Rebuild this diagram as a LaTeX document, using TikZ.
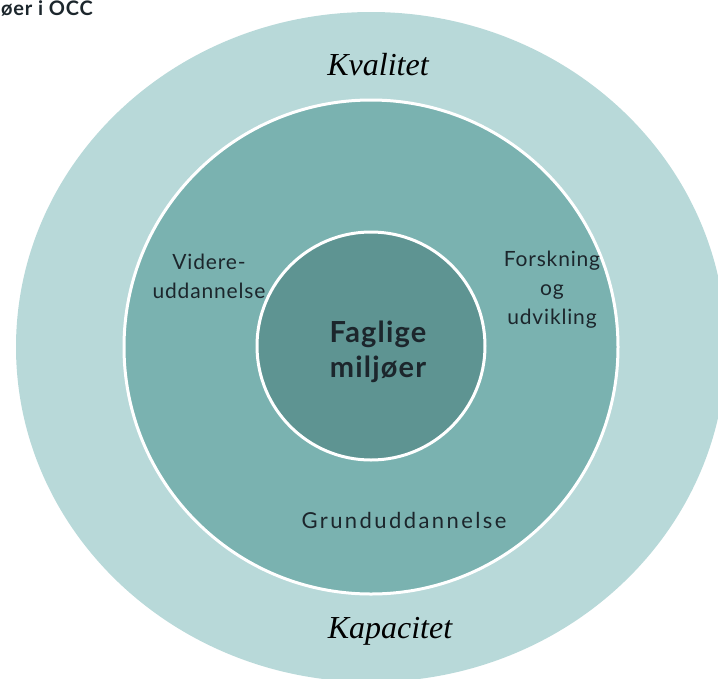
\documentclass[tikz,border=0pt]{standalone}
\usepackage{fontspec}
\setmainfont{Lato}
\newfontfamily\widefont[LetterSpace=4]{Lato}
\newfontfamily\widerfont[LetterSpace=11]{Lato}
\newfontfamily\handfont{Liberation Serif}
\usetikzlibrary{shapes.geometric}
\definecolor{ringouter}{RGB}{184,217,217}
\definecolor{ringmiddle}{RGB}{122,178,176}
\definecolor{ringinner}{RGB}{94,148,146}
\definecolor{textdark}{RGB}{28,38,44}
\tikzset{
  ring/.style={draw=white,line width=3pt,inner sep=0pt},
  ringtext/.style={align=center,text=textdark,font=\widefont\fontsize{21}{29}\selectfont},
  handtext/.style={text=black,font=\handfont\itshape\fontsize{32}{36}\selectfont}
}
\begin{document}
\begin{tikzpicture}[x=1pt,y=-1pt]
    \useasboundingbox (0,0) rectangle (718,678);
    \clip (0,0) rectangle (718,678);
    % rings
    \node[shape=ellipse,fill=ringouter,inner sep=0pt,minimum width=710pt,minimum height=670pt] (outer) at (371,347) {};
    \node[shape=circle,ring,fill=ringmiddle,minimum size=494pt] (middle) at (371,347) {};
    \node[shape=circle,ring,fill=ringinner,minimum size=228pt] (inner) at (371,346) {};
    % labels
    \node[anchor=base west,inner sep=0pt,text=textdark,font=\widefont\bfseries\fontsize{20}{22}\selectfont] (title) at (1,15) {øer i OCC};
    \node[handtext] (kvalitet) at (378,65) {Kvalitet};
    \node[handtext] (kapacitet) at (390,631) {Kapacitet};
    \node[ringtext] (videre) at (209,276) {Videre-\\uddannelse};
    \node[ringtext] (forskning) at (552,290) {Forskning\\og\\udvikling};
    \node[ringtext,font=\widerfont\fontsize{22}{29}\selectfont] (grund) at (404,520) {Grunduddannelse};
    \node[ringtext,font=\widefont\bfseries\fontsize{29}{35}\selectfont] (faglige) at (378,352) {Faglige\\miljøer};
\end{tikzpicture}
\end{document}
